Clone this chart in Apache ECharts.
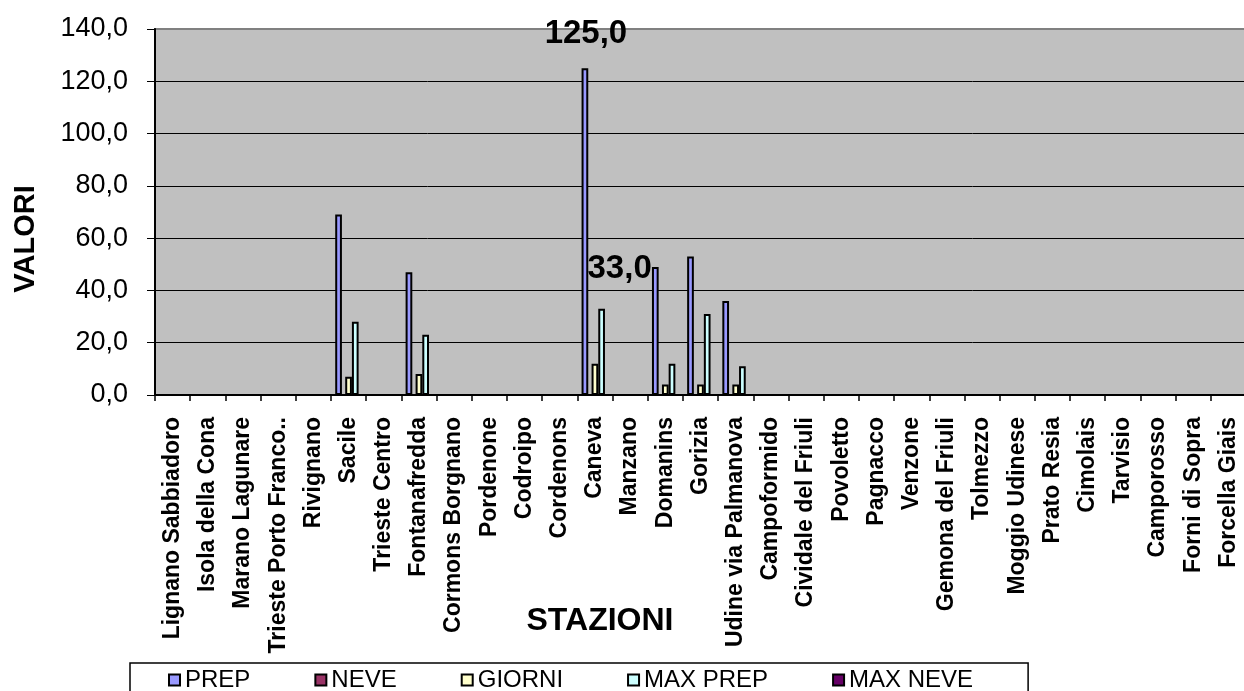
<!DOCTYPE html>
<html>
<head>
<meta charset="utf-8">
<title>Stazioni</title>
<script src="https://cdn.jsdelivr.net/npm/echarts@6/dist/echarts.min.js"></script>
<style>
  html, body { margin: 0; padding: 0; background: #fff; }
  #chart { width: 1244px; height: 691px; }
</style>
</head>
<body>
<div id="chart"></div>
<script>
// Stations along the category axis
const stations = [
  'Lignano Sabbiadoro', 'Isola della Cona', 'Marano Lagunare', 'Trieste Porto Franco..',
  'Rivignano', 'Sacile', 'Trieste Centro', 'Fontanafredda', 'Cormons Borgnano',
  'Pordenone', 'Codroipo', 'Cordenons', 'Caneva', 'Manzano', 'Domanins', 'Gorizia',
  'Udine via Palmanova', 'Campoformido', 'Cividale del Friuli', 'Povoletto', 'Pagnacco',
  'Venzone', 'Gemona del Friuli', 'Tolmezzo', 'Moggio Udinese', 'Prato Resia',
  'Cimolais', 'Tarvisio', 'Camporosso', 'Forni di Sopra', 'Forcella Giais'
];

// Series values, one entry per station
const prep    = [0,0,0,0,0,69,0,47,0,0,0,0,125,0,49,53,36,0,0,0,0,0,0,0,0,0,0,0,0,0,0];
const neve    = [0,0,0,0,0,0,0,0,0,0,0,0,0,0,0,0,0,0,0,0,0,0,0,0,0,0,0,0,0,0,0];
const giorni  = [0,0,0,0,0,7,0,8,0,0,0,0,12,0,4,4,4,0,0,0,0,0,0,0,0,0,0,0,0,0,0];
const maxPrep = [0,0,0,0,0,28,0,23,0,0,0,0,33,0,12,31,11,0,0,0,0,0,0,0,0,0,0,0,0,0,0];
const maxNeve = [0,0,0,0,0,0,0,0,0,0,0,0,0,0,0,0,0,0,0,0,0,0,0,0,0,0,0,0,0,0,0];

// Value axis range
const yMin = 0, yMax = 140, yStep = 20;

// Stations whose values get a printed label
const labelledPrep = 'Caneva';
const labelledMaxPrep = 'Caneva';

const FONT = '"Liberation Sans", Arial, sans-serif';
const fmt = v => Number(v).toFixed(1).replace('.', ',');

function withLabel(values, station, label) {
  const idx = stations.indexOf(station);
  return values.map((v, i) => i === idx ? { value: v, label: label } : v);
}

const bigLabel = (offset) => ({
  show: true,
  position: 'top',
  distance: 5,
  offset: offset,
  formatter: p => fmt(p.value),
  fontFamily: FONT,
  fontSize: 33,
  fontWeight: 'bold',
  color: '#000'
});

function barSeries(name, data, color, width) {
  return {
    name: name,
    type: 'bar',
    data: data,
    barWidth: width,
    barGap: '0%',
    barCategoryGap: '20%',
    itemStyle: { color: color, borderColor: '#000', borderWidth: 2 },
    emphasis: { disabled: true },
    animation: false
  };
}

const chart = echarts.init(document.getElementById('chart'), null, { renderer: 'canvas' });

chart.setOption({
  animation: false,
  backgroundColor: '#ffffff',
  grid: {
    left: 155, right: -2, top: 29, bottom: 296,
    show: true,
    backgroundColor: '#C0C0C0',
    borderColor: '#808080',
    borderWidth: 2,
    containLabel: false,
    outerBoundsMode: 'none'
  },
  xAxis: {
    type: 'category',
    data: stations,
    boundaryGap: true,
    axisLine: { show: true, lineStyle: { color: '#000', width: 2 } },
    axisTick: { show: true, alignWithLabel: false, interval: 0, length: 6, lineStyle: { color: '#000', width: 1.5 } },
    axisLabel: {
      interval: 0, rotate: 90, margin: 22,
      fontFamily: FONT, fontSize: 23, fontWeight: 'bold', color: '#000'
    },
    splitLine: { show: false }
  },
  yAxis: {
    type: 'value',
    min: yMin, max: yMax, interval: yStep,
    axisLine: { show: true, lineStyle: { color: '#000', width: 2 } },
    axisTick: { show: true, inside: false, length: 8, lineStyle: { color: '#000', width: 1 } },
    axisLabel: {
      margin: 27, formatter: v => fmt(v),
      fontFamily: FONT, fontSize: 27, color: '#000'
    },
    splitLine: { show: true, showMinLine: false, showMaxLine: false, lineStyle: { color: '#000', width: 1 } }
  },
  legend: {
    left: 130, top: 663,
    orient: 'horizontal',
    padding: [5, 55, 20, 38],
    itemGap: 64,
    itemWidth: 11, itemHeight: 11,
    icon: 'rect',
    backgroundColor: '#ffffff',
    borderColor: '#000',
    borderWidth: 1.5,
    borderRadius: 0,
    z: 10,
    selectedMode: false,
    textStyle: { fontFamily: FONT, fontSize: 24, color: '#000' },
    data: ['PREP', 'NEVE', 'GIORNI', 'MAX PREP', 'MAX NEVE']
  },
  graphic: [
    {
      type: 'text', x: 26, y: 239, rotation: Math.PI / 2,
      style: { text: 'VALORI', font: 'bold 29px ' + FONT, fill: '#000', align: 'center', verticalAlign: 'middle' }
    },
    {
      type: 'text', x: 600, y: 621,
      style: { text: 'STAZIONI', font: 'bold 32px ' + FONT, fill: '#000', align: 'center', verticalAlign: 'middle' }
    }
  ],
  series: [
    barSeries('PREP', withLabel(prep, labelledPrep, bigLabel([1, -13])), '#9999FF', 6.7),
    barSeries('NEVE', neve, '#993366', 3.3),
    barSeries('GIORNI', giorni, '#FFFFCC', 6.7),
    barSeries('MAX PREP', withLabel(maxPrep, labelledMaxPrep, bigLabel([18, -18])), '#CCFFFF', 6.7),
    barSeries('MAX NEVE', maxNeve, '#660066', 3.3)
  ]
});
</script>
</body>
</html>
